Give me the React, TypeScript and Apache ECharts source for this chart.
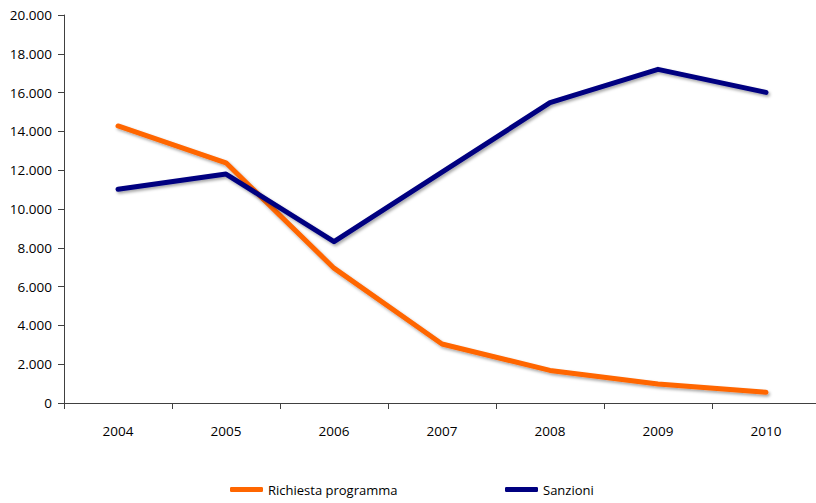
import React, { useEffect, useRef } from "react";
import * as echarts from "echarts";

const years = ["2004", "2005", "2006", "2007", "2008", "2009", "2010"];
const richiestaProgramma = [14280, 12380, 6950, 3040, 1680, 980, 550];
const sanzioni = [11020, 11800, 8320, 11900, 15480, 17200, 16010];
const yTicks = { min: 0, max: 20000, interval: 2000 };

const fmt = (v: number) => String(v).replace(/\B(?=(\d{3})+(?!\d))/g, ".");

const FONT = "Open Sans";
const shadow = {
  shadowColor: "rgba(0,0,0,0.35)",
  shadowBlur: 3,
  shadowOffsetX: 1.5,
  shadowOffsetY: 2,
};

export default function App() {
  const ref = useRef<HTMLDivElement>(null);
  useEffect(() => {
    if (!ref.current) return;
    const chart = echarts.init(ref.current, undefined, { renderer: "svg" });
    const legendBase = {
      top: 483,
      padding: 0,
      icon: "roundRect",
      itemWidth: 33,
      itemHeight: 5,
      textStyle: { fontFamily: FONT, fontSize: 13, color: "#000" },
    };
    chart.setOption({
      animation: false,
      backgroundColor: "#ffffff",
      textStyle: { fontFamily: FONT },
      grid: { left: 64, top: 15, right: 0, bottom: 100, containLabel: false },
      legend: [
        { ...legendBase, data: ["Richiesta programma"], left: 230 },
        { ...legendBase, data: ["Sanzioni"], left: 505 },
      ],
      xAxis: {
        type: "category",
        data: years,
        boundaryGap: true,
        axisLine: { lineStyle: { color: "#404040", width: 1 } },
        axisTick: { show: true, length: 6, inside: false, lineStyle: { color: "#404040" } },
        axisLabel: { color: "#000", fontFamily: FONT, fontSize: 13.5, margin: 21 },
        splitLine: { show: false },
      },
      yAxis: {
        type: "value",
        min: yTicks.min,
        max: yTicks.max,
        interval: yTicks.interval,
        axisLine: { show: true, lineStyle: { color: "#404040", width: 1 } },
        axisTick: { show: true, length: 6, lineStyle: { color: "#404040" } },
        axisLabel: {
          color: "#000",
          fontFamily: FONT,
          fontSize: 13.5,
          margin: 12,
          formatter: (v: number) => fmt(v),
        },
        splitLine: { show: false },
      },
      series: [
        {
          name: "Richiesta programma",
          type: "line",
          data: richiestaProgramma,
          symbol: "none",
          color: "#FF6600",
          lineStyle: { color: "#FF6600", width: 5, cap: "round", join: "round", ...shadow },
        },
        {
          name: "Sanzioni",
          type: "line",
          data: sanzioni,
          symbol: "none",
          color: "#000080",
          lineStyle: { color: "#000080", width: 5, cap: "round", join: "round", ...shadow },
        },
      ],
    });
    return () => chart.dispose();
  }, []);
  return (
    <div
      ref={ref}
      style={{ position: "fixed", left: 0, top: 0, width: 820, height: 503 }}
    />
  );
}
